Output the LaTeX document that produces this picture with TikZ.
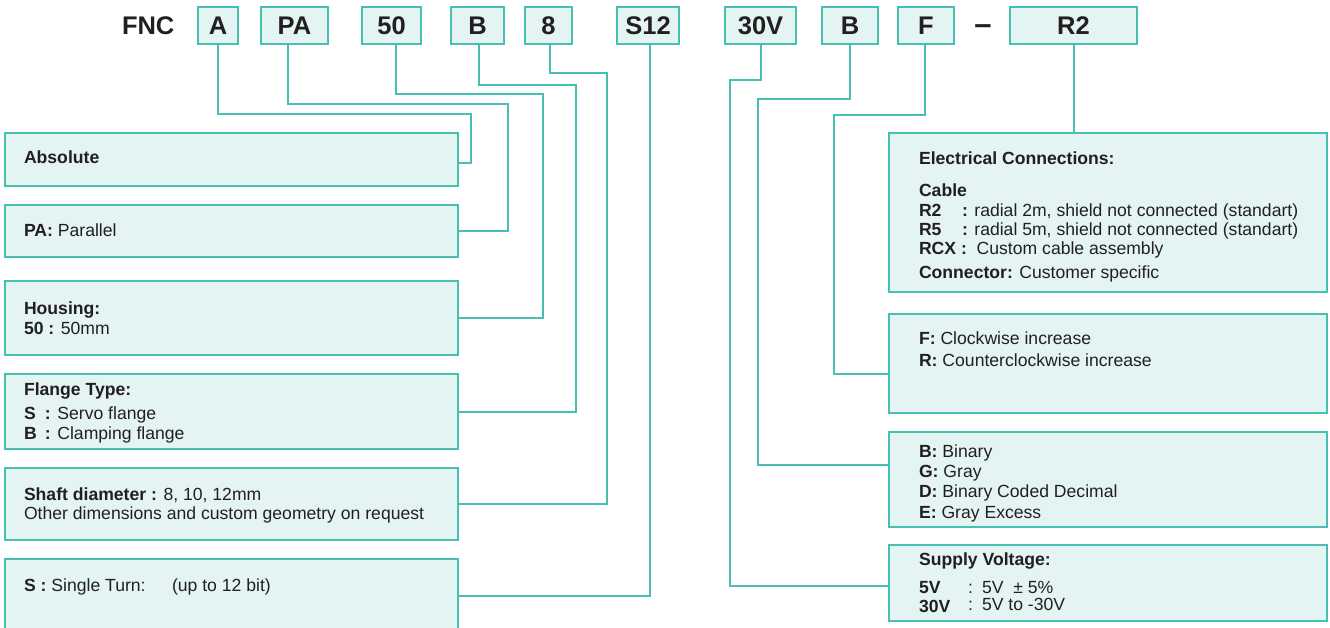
\documentclass[tikz,border=0pt]{standalone}
\usepackage{fontspec}
\setmainfont{Liberation Sans}
\definecolor{tealc}{RGB}{72,191,179}
\definecolor{fillc}{RGB}{227,244,243}
\definecolor{txtc}{RGB}{35,31,32}
\begin{document}
\begin{tikzpicture}[x=1pt,y=-1pt,
  box/.style={draw=tealc, fill=fillc, line width=1.6pt, rectangle, anchor=north west, inner sep=0pt, outer sep=0pt},
  code/.style={box, font=\fontsize{25.5}{28}\selectfont\bfseries, text=txtc},
  conn/.style={draw=tealc, line width=1.6pt},
  lbl/.style={anchor=base west, inner sep=0pt, outer sep=0pt, font=\fontsize{17.6}{20}\selectfont, text=txtc},
  head/.style={anchor=base west, inner sep=0pt, outer sep=0pt, font=\fontsize{25.5}{28}\selectfont\bfseries, text=txtc}
]
\clip (0,0) rectangle (1330,628);

% ---- header codes ----
\node[head] (fnc) at (122,35) {FNC};
\node[code, minimum width=40pt, minimum height=37pt] (cA) at (198,7) {A};
\node[code, minimum width=67pt, minimum height=37pt] (cPA) at (261,7) {PA};
\node[code, minimum width=59pt, minimum height=37pt] (c50) at (362,7) {50};
\node[code, minimum width=53pt, minimum height=37pt] (cB) at (451,7) {B};
\node[code, minimum width=47pt, minimum height=37pt] (c8) at (525,7) {8};
\node[code, minimum width=62pt, minimum height=37pt] (cS) at (617,7) {S12};
\node[code, minimum width=71pt, minimum height=37pt] (cV) at (725,7) {30V};
\node[code, minimum width=56pt, minimum height=37pt] (cB2) at (822,7) {B};
\node[code, minimum width=56pt, minimum height=37pt] (cF) at (898,7) {F};
\node[head, anchor=base, font=\fontsize{31}{33}\selectfont\bfseries] (dash) at (983,34.5) {–};
\node[code, minimum width=127pt, minimum height=37pt] (cR) at (1010,7) {R2};

% ---- left boxes ----
\node[box, minimum width=453pt, minimum height=53pt] (absb) at (5,133) {};
\node[box, minimum width=453pt, minimum height=52pt] (pab) at (5,205) {};
\node[box, minimum width=453pt, minimum height=74pt] (housb) at (5,281) {};
\node[box, minimum width=453pt, minimum height=75pt] (flanb) at (5,374) {};
\node[box, minimum width=453pt, minimum height=72pt] (shaftb) at (5,468) {};
\node[box, minimum width=453pt, minimum height=90pt] (singb) at (5,559) {};

% ---- right boxes ----
\node[box, minimum width=438pt, minimum height=159pt] (elecb) at (889,133) {};
\node[box, minimum width=438pt, minimum height=99pt] (dirb) at (889,314) {};
\node[box, minimum width=438pt, minimum height=95pt] (codeb) at (889,432) {};
\node[box, minimum width=438pt, minimum height=76pt] (suppb) at (889,545) {};

% ---- connectors, left ----
\coordinate (a0) at (218,0); \coordinate (a1) at (471,114); \coordinate (a2) at (471,163);
\draw[conn] (cA.south -| a0) |- (a1) -- (a2) -- (absb.east |- a2);
\coordinate (p0) at (288,0); \coordinate (p1) at (508,104); \coordinate (p2) at (508,231);
\draw[conn] (cPA.south -| p0) |- (p1) -- (p2) -- (pab.east |- p2);
\coordinate (h0) at (396,0); \coordinate (h1) at (543,94); \coordinate (h2) at (543,318);
\draw[conn] (c50.south -| h0) |- (h1) -- (h2) -- (housb.east |- h2);
\coordinate (f0) at (479,0); \coordinate (f1) at (576,85); \coordinate (f2) at (576,412);
\draw[conn] (cB.south -| f0) |- (f1) -- (f2) -- (flanb.east |- f2);
\coordinate (s0) at (550,0); \coordinate (s1) at (607,73); \coordinate (s2) at (607,504);
\draw[conn] (c8.south -| s0) |- (s1) -- (s2) -- (shaftb.east |- s2);
\coordinate (t0) at (650,0); \coordinate (t2) at (650,596);
\draw[conn] (cS.south -| t0) -- (t2) -- (singb.east |- t2);

% ---- connectors, right ----
\coordinate (v0) at (761,0); \coordinate (v1) at (730,80); \coordinate (v2) at (730,586);
\draw[conn] (cV.south -| v0) |- (v1) -- (v2) -- (suppb.west |- v2);
\coordinate (b0) at (850,0); \coordinate (b1) at (758,99); \coordinate (b2) at (758,465);
\draw[conn] (cB2.south -| b0) |- (b1) -- (b2) -- (codeb.west |- b2);
\coordinate (r0) at (925,0); \coordinate (r1) at (834,115); \coordinate (r2) at (834,374);
\draw[conn] (cF.south -| r0) |- (r1) -- (r2) -- (dirb.west |- r2);
\coordinate (e0) at (1074,0);
\draw[conn] (cR.south -| e0) -- (elecb.north -| e0);

% ---- left texts ----
\node[lbl] (tabs) at (24,164) {\textbf{Absolute}};
\node[lbl] (tpa) at (24,237) {\textbf{PA:} Parallel};
\node[lbl] (thous) at (24,314) {\textbf{Housing:}};
\node[lbl] (thous2) at (24,334) {\textbf{50 :} 50mm};
\node[lbl] (tflan) at (24,395) {\textbf{Flange Type:}};
\node[lbl] (tflan1) at (24,419) {\makebox[21pt][l]{\textbf{S}}\textbf{:} Servo flange};
\node[lbl] (tflan2) at (24,439) {\makebox[21pt][l]{\textbf{B}}\textbf{:} Clamping flange};
\node[lbl] (tshaft) at (24,500) {\textbf{Shaft diameter :} 8, 10, 12mm};
\node[lbl] (tshaft2) at (24,519) {Other dimensions and custom geometry on request};
\node[lbl] (tsing) at (24,591) {\textbf{S :} Single Turn:};
\node[lbl] (tsing2) at (172,591) {(up to 12 bit)};

% ---- right texts ----
\node[lbl] (tel) at (919,165) {\textbf{Electrical Connections:}};
\node[lbl] (tcab) at (919,197) {\textbf{Cable}};
\node[lbl] (tr2) at (919,217) {\textbf{R2}};
\node[lbl] (tr2b) at (962,217) {\textbf{:} radial 2m, shield not connected (standart)};
\node[lbl] (tr5) at (919,236) {\textbf{R5}};
\node[lbl] (tr5b) at (962,236) {\textbf{:} radial 5m, shield not connected (standart)};
\node[lbl] (trcx) at (919,255) {\textbf{RCX :}\ \ Custom cable assembly};
\node[lbl] (tcon) at (919,279) {\textbf{Connector:} Customer specific};
\node[lbl] (tdf) at (919,344) {\textbf{F:} Clockwise increase};
\node[lbl] (tdr) at (919,366) {\textbf{R:} Counterclockwise increase};
\node[lbl] (tcb) at (919,457) {\textbf{B:} Binary};
\node[lbl] (tcg) at (919,477) {\textbf{G:} Gray};
\node[lbl] (tcd) at (919,497) {\textbf{D:} Binary Coded Decimal};
\node[lbl] (tce) at (919,518) {\textbf{E:} Gray Excess};
\node[lbl] (tsv) at (919,565) {\textbf{Supply Voltage:}};
\node[lbl] (t5v) at (919,593) {\textbf{5V}};
\node[lbl] (t5vb) at (968,593) {\makebox[14pt][l]{:}5V\ \ ± 5\%};
\node[lbl] (t30v) at (919,612) {\textbf{30V}};
\node[lbl] (t30vb) at (968,610) {\makebox[14pt][l]{:}5V to -30V};
\end{tikzpicture}
\end{document}
